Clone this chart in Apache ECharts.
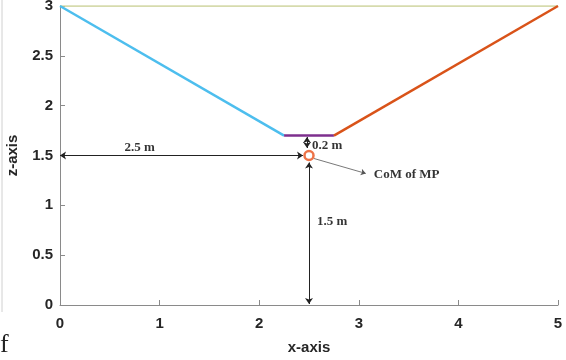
<!DOCTYPE html>
<html>
<head>
<meta charset="utf-8">
<script src="https://cdn.jsdelivr.net/npm/echarts@6/dist/echarts.min.js"></script>
<style>
html, body { margin: 0; padding: 0; background: #fff; }
#chart { width: 566px; height: 360px; }
</style>
</head>
<body>
<div id="chart"></div>
<script>
// tick labels
var xTicks = [0, 1, 2, 3, 4, 5];
var yTicks = [0, 0.5, 1, 1.5, 2, 2.5, 3];

// geometry lines (x, z)
var topLine = [[0, 3], [5, 3]];
var leftLeg = [[0, 3], [2.25, 1.7]];
var platform = [[2.25, 1.7], [2.75, 1.7]];
var rightLeg = [[2.75, 1.7], [5, 3]];
var comPoint = [[2.5, 1.5]];

// annotation arrows
var arrowX = [[0, 1.5], [2.44, 1.5]];
var arrowZ = [[2.5, 1.43], [2.5, 0.01]];
var arrowGap = [[2.48, 1.685], [2.48, 1.575]];
var arrowCom = [[2.55, 1.47], [3.07, 1.32]];

// annotation texts
var notes = [
    { text: '2.5 m', pos: [0.8, 1.58], align: 'center' },
    { text: '0.2 m', pos: [2.53, 1.6], align: 'left' },
    { text: '1.5 m', pos: [2.58, 0.84], align: 'left' },
    { text: 'CoM of MP', pos: [3.15, 1.31], align: 'left' }
];

var chart = echarts.init(document.getElementById('chart'));

function arrow(coords, both) {
    return {
        coords: coords,
        symbol: both ? ['arrow', 'arrow'] : ['none', 'arrow']
    };
}

var axisFont = { fontFamily: 'Liberation Sans', fontWeight: 'bold', fontSize: 15, color: '#262626' };

var op = {
    animation: false,
    grid: { left: 60, right: 8, top: 6, bottom: 55, containLabel: false, outerBoundsMode: 'none' },
    xAxis: {
        type: 'value',
        min: 0, max: 5, interval: 1,
        name: 'x-axis',
        nameLocation: 'middle',
        nameGap: 35,
        nameTextStyle: { fontFamily: 'Liberation Sans', fontWeight: 'bold', fontSize: 15, color: '#262626' },
        axisLine: { lineStyle: { color: '#8a8a8a', width: 1 } },
        axisTick: { inside: true, length: 5, lineStyle: { color: '#8a8a8a' } },
        axisLabel: Object.assign({ margin: 11, formatter: function (v) { return xTicks.indexOf(v) >= 0 ? String(v) : ''; } }, axisFont),
        splitLine: { show: false }
    },
    yAxis: {
        type: 'value',
        min: 0, max: 3, interval: 0.5,
        name: 'z-axis',
        nameLocation: 'middle',
        nameGap: 40,
        nameTextStyle: { fontFamily: 'Liberation Sans', fontWeight: 'bold', fontSize: 15, color: '#262626' },
        axisLine: { show: true, lineStyle: { color: '#8a8a8a', width: 1 } },
        axisTick: { show: true, inside: true, length: 5, lineStyle: { color: '#8a8a8a' } },
        axisLabel: Object.assign({ margin: 7, formatter: function (v) { return yTicks.indexOf(v) >= 0 ? String(v) : ''; } }, axisFont),
        splitLine: { show: false }
    },
    graphic: [
        { type: 'line', shape: { x1: 2, y1: 0, x2: 2, y2: 312 }, style: { stroke: '#d0d0d0', lineWidth: 1 } },
        { type: 'text', left: 0, top: 332, style: { text: 'f', font: '26px "Liberation Serif"', fill: '#222' } }
    ],
    series: [
        { type: 'line', data: topLine, symbol: 'none', lineStyle: { color: '#c9cf92', width: 1.5 } },
        { type: 'line', data: leftLeg, symbol: 'none', lineStyle: { color: '#4dbeee', width: 2.5 } },
        { type: 'line', data: platform, symbol: 'none', lineStyle: { color: '#7e2f8e', width: 2.5 } },
        { type: 'line', data: rightLeg, symbol: 'none', lineStyle: { color: '#d95319', width: 2.5 } },
        {
            type: 'lines',
            coordinateSystem: 'cartesian2d',
            symbolSize: 6,
            lineStyle: { color: '#222', width: 1, opacity: 1 },
            data: [arrow(arrowX, true), arrow(arrowZ, true), arrow(arrowGap, true)]
        },
        {
            type: 'lines',
            coordinateSystem: 'cartesian2d',
            symbolSize: 5,
            lineStyle: { color: '#555', width: 0.8, opacity: 1 },
            data: [arrow(arrowCom, false)]
        },
        {
            type: 'scatter', data: comPoint, symbol: 'circle', symbolSize: 9,
            itemStyle: { color: '#fff', borderColor: '#e8501a', borderWidth: 2.5 }
        },
        {
            type: 'scatter',
            symbolSize: 0,
            data: notes.map(function (n) {
                return {
                    value: n.pos,
                    label: {
                        show: true, position: 'inside', formatter: n.text, align: n.align,
                        fontFamily: 'Liberation Serif', fontWeight: 'bold', fontSize: 13, color: '#000'
                    }
                };
            })
        }
    ]
};
chart.setOption(op);
</script>
</body>
</html>
